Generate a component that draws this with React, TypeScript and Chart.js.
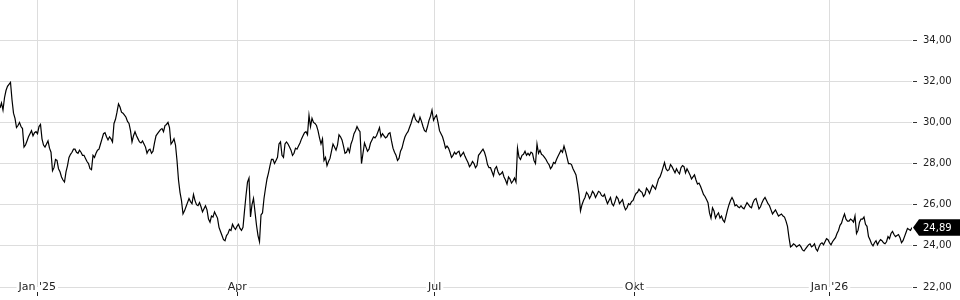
import React, { useEffect, useRef } from 'react';
import { Chart, registerables } from 'chart.js';

Chart.register(...registerables);

// Share price readings, one every ~3px along the time axis
const prices: number[] = [
  30.7, 30.6, 31.55, 31.85, 31.1, 30.2, 29.85, 29.8, 28.8, 29.1,
  29.45, 29.35, 29.55, 29.8, 29.2, 28.8, 29.1, 28.55, 27.8, 28.15,
  27.6, 27.2, 27.6, 28.3, 28.55, 28.7, 28.5, 28.55, 28.4, 28.1,
  27.75, 28.4, 28.5, 28.7, 29.2, 29.5, 29.15, 29.2, 29.95, 30.5,
  30.75, 30.45, 30.25, 29.95, 29.05, 29.55, 29.2, 29.0, 28.95, 28.5,
  28.7, 28.6, 29.35, 29.55, 29.7, 29.85, 30.0, 28.95, 29.2, 28.15,
  26.6, 25.55, 25.9, 26.3, 26.05, 26.2, 25.95, 25.9, 25.8, 25.75,
  25.15, 25.4, 25.5, 24.9, 24.5, 24.25, 24.6,
  24.75, 24.9, 24.95, 24.85, 24.9, 26.45, 27.3, 26.0, 25.65, 24.5,
  25.5, 26.3, 27.25, 27.9, 28.2, 28.15, 28.95, 28.4, 28.95, 28.95,
  28.65, 28.5, 28.7, 29.0, 29.35, 29.55, 30.35, 30.2, 29.95, 29.6,
  28.95, 28.15, 27.9, 28.25, 28.95, 28.65, 29.4, 29.15, 28.5, 28.75,
  28.95, 29.45, 29.8, 29.55, 28.5, 28.8, 28.7, 29.15, 29.25, 29.55,
  29.3, 29.35, 29.3, 29.5, 28.75, 28.4, 28.25, 28.75, 29.3, 29.55,
  29.95, 30.4, 30.05, 30.25, 29.8, 29.55, 30.1, 30.6, 30.25, 30.0,
  29.45, 29.05, 28.85, 28.55, 28.4, 28.45,
  28.6, 28.45, 28.35, 28.05, 27.95, 28.0, 27.9, 28.5, 28.7, 28.3,
  27.8, 27.6, 27.75, 27.6, 27.5, 27.35, 27.0, 27.25, 27.15, 27.1,
  28.3, 28.4, 28.6, 28.5, 28.55, 28.15, 28.95, 28.65, 28.4, 28.2,
  27.95, 27.85, 28.0, 28.35, 28.65, 28.85, 28.3, 28.0, 27.75, 27.45,
  26.5, 26.0, 26.35, 26.5, 26.45, 26.55, 26.5, 26.6, 26.4, 26.25,
  26.2, 26.05, 26.15, 26.3, 26.15, 25.95, 25.85, 26.0, 26.2, 26.55,
  26.75, 26.6, 26.5, 26.7, 26.75, 26.85, 27.0, 27.35, 27.8, 27.75,
  27.7, 27.85, 27.55, 27.6, 27.8, 27.85,
  27.75, 27.45, 27.35, 27.2, 27.05, 26.7, 26.4, 26.1, 25.35, 25.7,
  25.5, 25.35, 25.25, 25.45, 26.0, 26.35, 25.95, 25.9, 25.95, 25.8,
  26.1, 25.9, 26.1, 26.3, 25.8, 26.1, 26.35, 26.05, 25.75, 25.65,
  25.6, 25.5, 25.45, 25.2, 24.4, 24.0, 24.05, 24.0, 23.95, 23.75,
  23.95, 24.1, 24.0, 23.85, 23.95, 24.15, 24.2, 24.3, 24.05, 24.3,
  24.6, 25.0, 25.35, 25.3, 25.2, 25.25, 25.45, 24.75, 25.3, 25.4,
  24.95, 24.3, 24.0, 24.25, 24.2, 24.25, 24.1, 24.45, 24.6, 24.55,
  24.5, 24.4, 24.25, 24.65, 24.8, 24.89,
];

// Intermediate readings, half-way between consecutive entries of prices
const mids: number[] = [
  30.95, 31.2, 31.75, 31.95, 30.45, 29.75, 30.0, 29.7, 28.9, 29.3,
  29.6, 29.5, 29.45, 29.9, 28.9, 28.95, 28.75, 27.65, 28.2, 27.75,
  27.35, 27.1, 27.9, 28.45, 28.7, 28.55, 28.65, 28.4, 28.25, 28.0,
  27.7, 28.3, 28.65, 28.95, 29.45, 29.3, 29.3, 29.05, 30.15, 30.9,
  30.5, 30.35, 30.05, 29.6, 29.35, 29.35, 29.05, 29.1, 28.8, 28.65,
  28.5, 29.0, 29.45, 29.65, 29.55, 29.9, 29.75, 29.05, 28.9, 27.2,
  26.2, 25.7, 26.1, 26.15, 26.5, 26.0, 26.1, 25.65, 25.95, 25.3,
  25.45, 25.65, 25.35, 24.7, 24.3, 24.5, 24.8, 25.05, 24.8, 25.05,
  24.75, 25.7, 27.1, 25.4, 26.3, 25.0, 24.2, 25.6, 26.8, 27.55,
  28.2, 28.0, 28.3, 29.05, 28.3, 29.05, 28.8, 28.4, 28.75, 28.85,
  29.2, 29.5, 29.4, 29.8, 30.0, 29.85, 29.25, 29.2, 28.3, 28.1,
  28.6, 28.8, 28.9, 29.3, 28.85, 28.55, 28.55, 29.15, 29.6, 29.65,
  28.0, 29.0, 28.6, 29.0, 29.3, 29.35, 29.75, 29.45, 29.25, 29.45,
  29.1, 28.55, 28.15, 28.6, 29.05, 29.45, 29.75, 30.2, 30.15, 30.0,
  30.05, 29.6, 29.8, 30.3, 30.1, 30.35, 29.6, 29.3, 28.75, 28.75,
  28.3, 28.55, 28.55, 28.35, 28.55, 28.2, 27.85, 28.1, 27.8, 28.4,
  28.6, 28.55, 27.95, 27.8, 27.4, 27.85, 27.45, 27.6, 27.2, 27.35,
  27.05, 27.3, 28.75, 28.2, 28.45, 28.4, 28.4, 28.5, 28.0, 28.5,
  28.45, 28.3, 28.05, 27.75, 28.05, 28.2, 28.5, 28.55, 28.6, 28.0,
  27.95, 27.6, 27.0, 25.7, 26.2, 26.6, 26.3, 26.65, 26.35, 26.65,
  26.45, 26.5, 26.05, 26.35, 25.95, 26.4, 26.05, 26.25, 25.75, 26.05,
  26.15, 26.4, 26.6, 26.65, 26.4, 26.8, 26.55, 26.95, 26.75, 27.25,
  27.55, 28.05, 27.65, 27.95, 27.7, 27.75, 27.5, 27.9, 27.55, 27.6,
  27.25, 27.45, 27.0, 26.9, 26.5, 26.25, 25.6, 25.85, 25.35, 25.6,
  25.45, 25.15, 25.75, 26.2, 26.2, 26.0, 25.85, 25.85, 25.95, 26.0,
  25.85, 26.25, 26.05, 25.9, 26.25, 26.2, 25.95, 25.55, 25.75, 25.45,
  25.55, 25.4, 24.95, 23.95, 24.1, 23.95, 24.05, 23.8, 23.85, 24.05,
  23.95, 24.1, 23.75, 24.1, 24.05, 24.35, 24.15, 24.2, 24.4, 24.75,
  25.1, 25.55, 25.2, 25.3, 25.15, 24.6, 25.15, 25.3, 25.05, 24.45,
  24.1, 24.15, 24.05, 24.3, 24.15, 24.2, 24.35, 24.7, 24.45, 24.55,
  24.15, 24.45, 24.85, 24.75,
];

// Month ticks (positions on the sample index axis) and their labels
const xTickIdx: number[] = [12.43, 79.1, 144.9, 211.5, 276.5];
const xTickLabels: string[] = ["Jan '25", 'Apr', 'Jul', 'Okt', "Jan '26"];

// Price ticks
const yTicks: number[] = [22, 24, 26, 28, 30, 32, 34];
const yMin = 22;
const yMax = 35.95;

const fmt = (v: number) => v.toFixed(2).replace('.', ',');

const series: { x: number; y: number }[] = [];
prices.forEach((v, i) => {
  series.push({ x: i, y: v });
  if (i < mids.length) series.push({ x: i + 0.5, y: mids[i] });
});

const lastValuePlugin = {
  id: 'lastValueTag',
  afterDraw(chart: any) {
    const { ctx, chartArea, scales } = chart;
    const data = chart.data.datasets[0].data as { x: number; y: number }[];
    const last = data[data.length - 1].y;
    const y = scales.y.getPixelForValue(last);
    const tip = chartArea.right + 1;
    const left = tip + 6;
    const right = chart.width;
    const h = 8.3;
    ctx.save();
    ctx.fillStyle = '#000';
    ctx.beginPath();
    ctx.moveTo(tip, y);
    ctx.lineTo(left, y - h);
    ctx.lineTo(right, y - h);
    ctx.lineTo(right, y + h);
    ctx.lineTo(left, y + h);
    ctx.closePath();
    ctx.fill();
    ctx.fillStyle = '#fff';
    ctx.font = '10px "DejaVu Sans"';
    ctx.textBaseline = 'middle';
    ctx.textAlign = 'left';
    ctx.fillText(fmt(last), chartArea.right + 11, y + 0.5);
    ctx.restore();
  },
};

export default function App() {
  const canvasRef = useRef<HTMLCanvasElement | null>(null);

  useEffect(() => {
    const canvas = canvasRef.current;
    if (!canvas) return;
    const chart = new Chart(canvas, {
      type: 'line',
      data: {
        datasets: [
          {
            data: series,
            borderColor: '#000',
            borderWidth: 1.2,
            pointRadius: 0,
            tension: 0,
            fill: false,
          },
        ],
      },
      options: {
        animation: false,
        responsive: false,
        devicePixelRatio: 1,
        layout: { padding: 0 },
        plugins: {
          legend: { display: false },
          tooltip: { enabled: false },
        },
        scales: {
          x: {
            type: 'linear',
            min: 0,
            max: prices.length - 1,
            afterBuildTicks: (s: any) => {
              s.ticks = xTickIdx.map((value) => ({ value }));
            },
            afterFit: (s: any) => {
              s.height = 13;
              s.paddingLeft = 0;
              s.paddingRight = 0;
            },
            border: { display: false },
            grid: {
              color: '#dddddd',
              z: -1,
              drawTicks: true,
              tickLength: 9,
              tickColor: '#222',
              tickBorderDash: [4, 5],
              tickBorderDashOffset: 4,
            },
            ticks: {
              autoSkip: false,
              maxRotation: 0,
              mirror: true,
              padding: -6.6,
              font: { family: 'DejaVu Sans', size: 11 },
              color: '#222',
              showLabelBackdrop: true,
              backdropColor: '#fff',
              backdropPadding: { top: 0, bottom: 0, left: 2, right: 2 },
              z: -2,
              callback: (_v: any, i: number) => xTickLabels[i],
            },
          },
          y: {
            type: 'linear',
            position: 'right',
            min: yMin,
            max: yMax,
            afterBuildTicks: (s: any) => {
              s.ticks = yTicks.map((value) => ({ value }));
            },
            afterFit: (s: any) => {
              s.width = 48;
              s.paddingTop = 0;
              s.paddingBottom = 0;
            },
            border: { display: false },
            grid: {
              color: '#dddddd',
              z: -3,
              drawTicks: true,
              tickLength: 5,
              tickColor: '#333',
              tickBorderDash: [4, 1],
              tickBorderDashOffset: 4,
            },
            ticks: {
              padding: 6,
              font: { family: 'DejaVu Sans', size: 10 },
              color: '#222',
              callback: (v: any) => fmt(Number(v)),
            },
          },
        },
      },
      plugins: [lastValuePlugin],
    } as any);
    return () => chart.destroy();
  }, []);

  return (
    <div style={{ position: 'absolute', left: 0, top: 0, width: 960, height: 300, background: '#fff' }}>
      <canvas ref={canvasRef} width={960} height={300} style={{ display: 'block' }} />
    </div>
  );
}
